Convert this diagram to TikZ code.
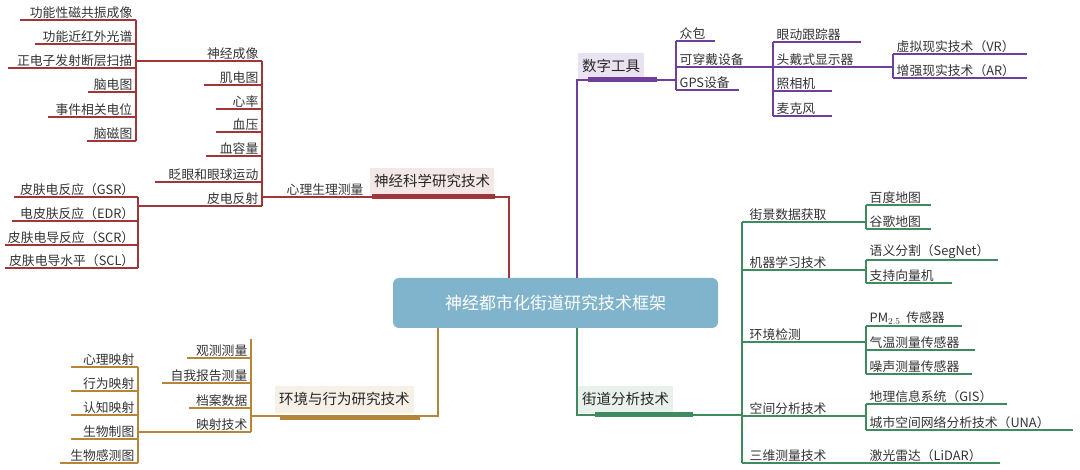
\documentclass[tikz,border=0pt]{standalone}
\usepackage{fontspec}
\setmainfont{Noto Sans CJK SC}
\usetikzlibrary{positioning}
\definecolor{nred}{HTML}{A0353A}
\definecolor{npurple}{HTML}{6F3F9B}
\definecolor{ngreen}{HTML}{3F8A5F}
\definecolor{nbrown}{HTML}{B5863A}
\definecolor{ncentre}{HTML}{80B4CC}

\begin{document}
\begin{tikzpicture}[
    x=1pt, y=-1pt,
    leaf/.style={inner sep=1.5pt, font=\fontsize{12.8}{13}\selectfont, text=black!80},
    branch/.style={inner sep=4pt, font=\fontsize{14.5}{15}\selectfont, text=black!85, minimum height=27pt},
    thin/.style={line width=1.3pt},
    bar/.style={line width=5pt}
]
    \useasboundingbox (0,0) rectangle (1080,470);

    % Centre
    \node[fill=ncentre, rounded corners=6pt, minimum width=325pt, minimum height=50pt,
          text=white, font=\fontsize{17}{18}\selectfont] (centre) at (555.5,303) {神经都市化街道研究技术框架};

    % ---------------- neuroscience (red) ----------------
    \node[branch, fill=nred!12, anchor=south west] (neuro) at (370,195) {神经科学研究技术};
    \draw[bar, nred] (372,197) -- (495,197);
    \draw[thin, nred] (262,197) -- (509,197) -- (509,278);
    \node[leaf, anchor=south west] (psy) at (285,197) {心理生理测量};
    \foreach \t/\y/\l [count=\i] in {神经成像/61/136, 肌电图/85/204, 心率/109/216, 血压/132/216,
            血容量/156/206, 眨眼和眼球运动/182/155, 皮电反射/206/138} {
        \node[leaf, anchor=south east] (phys\i) at (260,\y) {\t};
        \draw[thin, nred] (\l,\y) -- (262,\y);
    }
    \draw[thin, nred] (262,61) -- (262,206);
    \foreach \t/\y/\l [count=\i] in {功能性磁共振成像/20/20, 功能近红外光谱/44/35, 正电子发射断层扫描/68/8,
            脑电图/92/88, 事件相关电位/117/48, 脑磁图/141/87} {
        \node[leaf, anchor=south east] (img\i) at (134,\y) {\t};
        \draw[thin, nred] (\l,\y) -- (136,\y);
    }
    \draw[thin, nred] (136,20) -- (136,141);
    \foreach \t/\y/\l [count=\i] in {皮肤电反应（GSR）/197/14, 电皮肤反应（EDR）/221/12,
            皮肤电导反应（SCR）/245/5, 皮肤电导水平（SCL）/268/5} {
        \node[leaf, anchor=south east] (skin\i) at (136,\y) {\t};
        \draw[thin, nred] (\l,\y) -- (138,\y);
    }
    \draw[thin, nred] (138,197) -- (138,268);

    % ---------------- digital tools (purple) ----------------
    \node[branch, fill=npurple!15, anchor=south west] (digital) at (578,80) {数字工具};
    \draw[bar, npurple] (588,80) -- (657,80);
    \draw[thin, npurple] (577,278) -- (577,80) -- (676,80);
    \foreach \t/\y/\r [count=\i] in {众包/41/715, 可穿戴设备/67/773, GPS设备/90/739} {
        \node[leaf, anchor=south west] (dig\i) at (678,\y) {\t};
        \draw[thin, npurple] (676,\y) -- (\r,\y);
    }
    \draw[thin, npurple] (676,41) -- (676,90);
    \foreach \t/\y/\r [count=\i] in {眼动跟踪器/42/861, 头戴式显示器/67/893, 照相机/91/832, 麦克风/116/832} {
        \node[leaf, anchor=south west] (wear\i) at (775,\y) {\t};
        \draw[thin, npurple] (773,\y) -- (\r,\y);
    }
    \draw[thin, npurple] (773,42) -- (773,116);
    \foreach \t/\y [count=\i] in {虚拟现实技术（VR）/54, 增强现实技术（AR）/78} {
        \node[leaf, anchor=south west] (xr\i) at (895,\y) {\t};
        \draw[thin, npurple] (893,\y) -- (1027,\y);
    }
    \draw[thin, npurple] (893,54) -- (893,78);

    % ---------------- street analysis (green) ----------------
    \node[branch, fill=ngreen!12, anchor=south west] (street) at (578,413) {街道分析技术};
    \draw[bar, ngreen] (595,415) -- (693,415);
    \draw[thin, ngreen] (577,328) -- (577,415) -- (742,415);
    \foreach \t/\y [count=\i] in {街景数据获取/222, 机器学习技术/270, 环境检测/342, 空间分析技术/416, 三维测量技术/463} {
        \node[leaf, anchor=south west] (sa\i) at (748,\y) {\t};
        \draw[thin, ngreen] (742,\y) -- (866,\y);
    }
    \draw[thin, ngreen] (742,222) -- (742,463);
    \foreach \t/\y/\r [count=\i] in {百度地图/205/931, 谷歌地图/229/931, 语义分割（SegNet）/260/998, 支持向量机/283/952,
            PM$_{2.5}$\ \ 传感器/326/962, 气温测量传感器/350/975, 噪声测量传感器/374/972,
            地理信息系统（GIS）/404/1007, 城市空间网络分析技术（UNA）/430/1073, 激光雷达（LiDAR）/463/1000} {
        \node[leaf, anchor=south west] (tool\i) at (868,\y) {\t};
        \draw[thin, ngreen] (866,\y) -- (\r,\y);
    }
    \draw[thin, ngreen] (866,205) -- (866,229);
    \draw[thin, ngreen] (866,260) -- (866,283);
    \draw[thin, ngreen] (866,326) -- (866,374);
    \draw[thin, ngreen] (866,404) -- (866,430);

    % ---------------- environment & behaviour (brown) ----------------
    \node[branch, fill=nbrown!12, anchor=south west] (env) at (275,413) {环境与行为研究技术};
    \draw[bar, nbrown] (280,418) -- (420,418);
    \draw[thin, nbrown] (438,328) -- (438,416) -- (251,416);
    \foreach \t/\y/\l [count=\i] in {观测测量/358/187, 自我报告测量/383/162, 档案数据/408/189, 映射技术/432/138} {
        \node[leaf, anchor=south east] (eb\i) at (249,\y) {\t};
        \draw[thin, nbrown] (\l,\y) -- (251,\y);
    }
    \draw[thin, nbrown] (251,339) -- (251,432);
    \foreach \t/\y/\l [count=\i] in {心理映射/367/71, 行为映射/391/71, 认知映射/415/71, 生物制图/439/71, 生物感测图/463/60} {
        \node[leaf, anchor=south east] (map\i) at (136,\y) {\t};
        \draw[thin, nbrown] (\l,\y) -- (138,\y);
    }
    \draw[thin, nbrown] (138,367) -- (138,463);
\end{tikzpicture}
\end{document}
